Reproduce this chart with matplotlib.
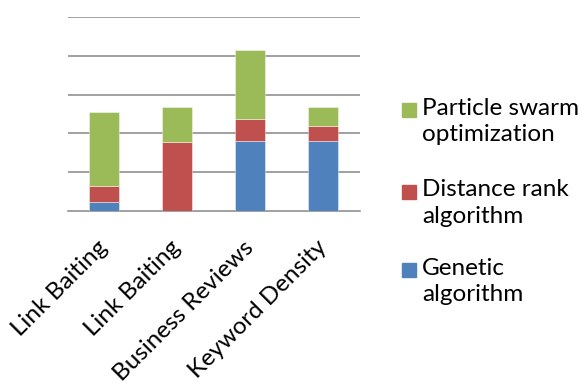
import matplotlib
matplotlib.use("Agg")
import matplotlib.pyplot as plt
import numpy as np
from matplotlib.patches import Rectangle

categories = ["Link Baiting", "Link Baiting", "Business Reviews", "Keyword Density"]
genetic = [2.2, 0.0, 17.9, 17.9]
distance_rank = [4.2, 17.8, 5.9, 4.0]
particle_swarm = [19.1, 8.9, 17.7, 5.0]
series_names = ["Genetic\nalgorithm", "Distance rank\nalgorithm", "Particle swarm\noptimization"]
colors = ["#4F81BD", "#C0504D", "#9BBB59"]

plt.rcParams['font.family'] = ['Lato', 'DejaVu Sans']

fig = plt.figure(figsize=(5.86, 3.85), dpi=100)
W, H = 586, 385
ax = fig.add_axes([67.5 / W, 1 - 210.7 / H, 292 / W, 193.4 / H])

x = np.arange(len(categories))
bottom = np.zeros(len(categories))
for vals, col in zip([genetic, distance_rank, particle_swarm], colors):
    ax.bar(x, vals, width=0.4, bottom=bottom, color=col,
           edgecolor=(1, 1, 1, 0.5), linewidth=0.6, zorder=3)
    bottom += np.array(vals)

ax.set_xlim(-0.5, len(categories) - 0.5)
ax.set_ylim(0, 50)
ax.set_yticks(np.arange(10, 51, 10))
ax.yaxis.grid(True, color="#868686", linewidth=1.1, zorder=0)
ax.tick_params(axis='y', left=False, labelleft=False)
ax.tick_params(axis='x', length=0, pad=24)
for s in ["left", "right", "top"]:
    ax.spines[s].set_visible(False)
ax.spines["bottom"].set_color("#868686")
ax.spines["bottom"].set_linewidth(1.1)

ax.set_xticks(x)
ax.set_xticklabels(categories, rotation=45, ha='right', va='center',
                   rotation_mode='anchor', fontsize=17.5)

# legend drawn as swatches with two-line labels
leg_y = [270, 191.5, 110]
for name, col, yc in zip(series_names, colors, leg_y):
    fig.add_artist(Rectangle((402 / W, 1 - (yc + 7) / H), 14 / W, 14 / H,
                             transform=fig.transFigure, color=col))
    fig.text(422 / W, 1 - (yc - 12) / H, name, fontsize=17.5, va='top',
             ha='left', linespacing=1.3)

fig.savefig("out.png", dpi=100)
